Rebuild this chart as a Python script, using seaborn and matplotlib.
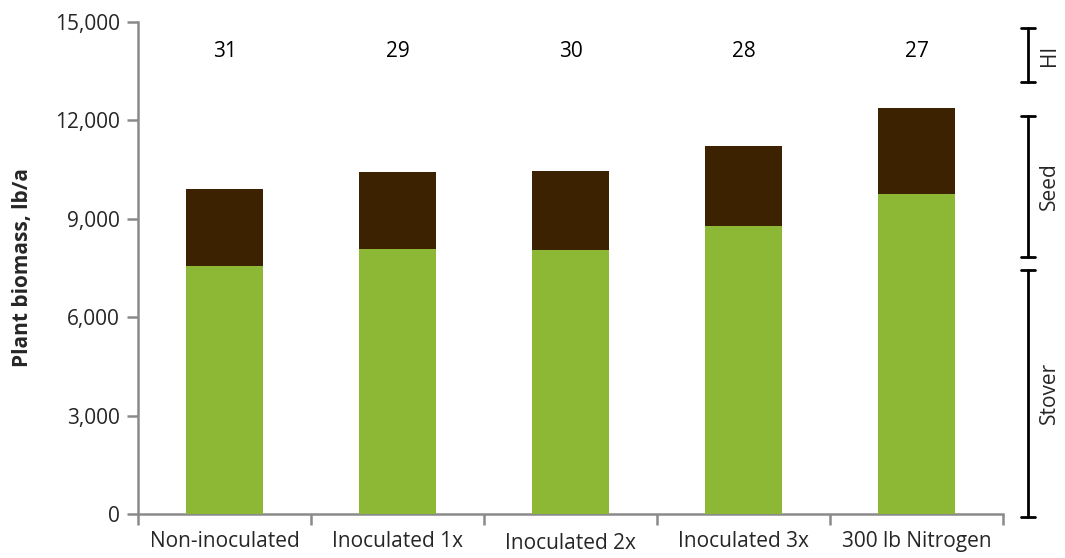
import matplotlib
matplotlib.use("Agg")
import matplotlib.pyplot as plt
import matplotlib.transforms as mtransforms
import seaborn as sns
import pandas as pd

# Treatments and biomass components (lb/a)
treatments = ["Non-inoculated", "Inoculated 1x", "Inoculated 2x", "Inoculated 3x", "300 lb Nitrogen"]
stover = [7560, 8080, 8050, 8780, 9760]
total_biomass = [9900, 10430, 10460, 11230, 12380]
harvest_index = [31, 29, 30, 28, 27]

green = "#8DB836"
brown = "#3C2200"
axis_gray = "#8A8A8A"

sns.set_theme(style="white")
plt.rcParams["font.family"] = ["Open Sans", "DejaVu Sans"]

df = pd.DataFrame({"treatment": treatments, "stover": stover, "total": total_biomass})

fig = plt.figure(figsize=(10.65, 5.58), dpi=100)
ax = fig.add_axes([0.1296, 0.0789, 0.8122, 0.8817])

# Stacked bars: total (seed on top) drawn first, stover overlaid
sns.barplot(data=df, x="treatment", y="total", order=treatments, color=brown,
            width=0.45, saturation=1, linewidth=0, ax=ax, zorder=2)
sns.barplot(data=df, x="treatment", y="stover", order=treatments, color=green,
            width=0.45, saturation=1, linewidth=0, ax=ax, zorder=3)

fs = 15
ax.set_xlim(-0.5, len(treatments) - 0.5)
ax.set_ylim(0, 15000)
ax.set_yticks(range(0, 15001, 3000))
ax.set_yticklabels([f"{v:,}" for v in range(0, 15001, 3000)], fontsize=fs)
ax.set_xticks(range(len(treatments)))
ax.set_xticklabels(treatments, fontsize=fs)
ax.set_xticks([i - 0.5 for i in range(len(treatments) + 1)], minor=True)
ax.tick_params(axis="x", which="major", bottom=False, length=0, pad=12)
ax.tick_params(axis="x", which="minor", bottom=True, length=8, width=1.8,
               color=axis_gray, direction="out")
ax.tick_params(axis="y", which="major", left=True, length=8, width=1.8,
               color=axis_gray, direction="out", pad=5)
for lbl in ax.get_xticklabels()[2:3]:
    lbl.set_y(-0.005)

ax.set_xlabel("")
ax.set_ylabel("Plant biomass, lb/a", fontsize=fs, fontweight="bold", labelpad=16)

for side in ["top", "right"]:
    ax.spines[side].set_visible(False)
for side in ["left", "bottom"]:
    ax.spines[side].set_color(axis_gray)
    ax.spines[side].set_linewidth(1.8)

# Harvest index above each bar
for i, hi in enumerate(harvest_index):
    ax.text(i, 14100, str(hi), ha="center", va="center", fontsize=fs, color="black")

# Brackets on the right naming each row of information
trans = mtransforms.blended_transform_factory(ax.transAxes, ax.transData)
bx = 1.029
cap = 0.008
brackets = [("HI", 14820, 13170), ("Seed", 12130, 7840), ("Stover", 7440, -90)]
for name, top, bot in brackets:
    ax.plot([bx, bx], [bot, top], color="black", lw=2, transform=trans, clip_on=False)
    for yy in (top, bot):
        ax.plot([bx - cap, bx + cap], [yy, yy], color="black", lw=2,
                transform=trans, clip_on=False)
    ax.text(bx + 0.025, (top + bot) / 2, name, rotation=90, ha="center", va="center",
            fontsize=fs, transform=trans, clip_on=False)

fig.savefig("out.png", dpi=100)
